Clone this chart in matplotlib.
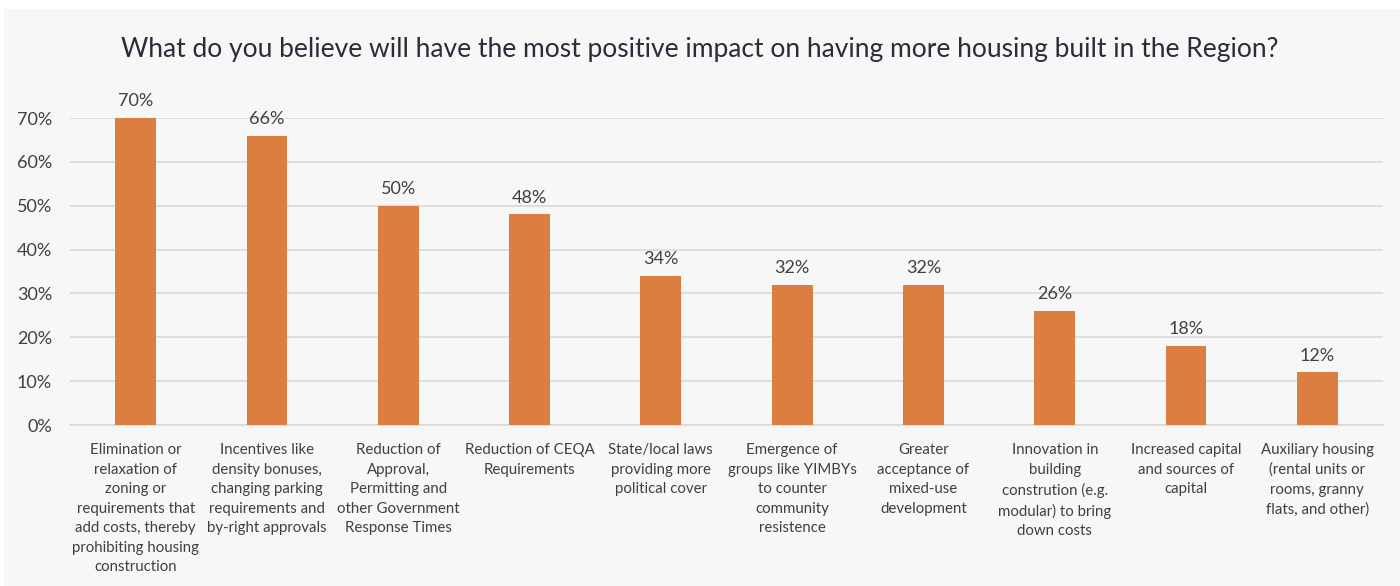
import matplotlib
matplotlib.use("Agg")
import matplotlib.pyplot as plt
from matplotlib.patches import Rectangle
from matplotlib.ticker import FuncFormatter

categories = [
    "Elimination or\nrelaxation of\nzoning or\nrequirements that\nadd costs, thereby\nprohibiting housing\nconstruction",
    "Incentives like\ndensity bonuses,\nchanging parking\nrequirements and\nby-right approvals",
    "Reduction of\nApproval,\nPermitting and\nother Government\nResponse Times",
    "Reduction of CEQA\nRequirements",
    "State/local laws\nproviding more\npolitical cover",
    "Emergence of\ngroups like YIMBYs\nto counter\ncommunity\nresistence",
    "Greater\nacceptance of\nmixed-use\ndevelopment",
    "Innovation in\nbuilding\nconstrution (e.g.\nmodular) to bring\ndown costs",
    "Increased capital\nand sources of\ncapital",
    "Auxiliary housing\n(rental units or\nrooms, granny\nflats, and other)",
]
values = [70, 66, 50, 48, 34, 32, 32, 26, 18, 12]
yticks = [0, 10, 20, 30, 40, 50, 60, 70]
title = "What do you believe will have the most positive impact on having more housing built in the Region?"

bar_color = "#DC7E40"
text_color = "#404040"
bg = "#F7F7F7"

fig = plt.figure(figsize=(14, 5.86), dpi=100)
fig.patch.set_facecolor("white")
fig.patches.append(Rectangle((4 / 1400, 0), 1 - 4 / 1400, 1 - 9 / 586,
                             transform=fig.transFigure, facecolor=bg,
                             edgecolor="none", zorder=-10))

ax = fig.add_axes([70 / 1400, 1 - 425 / 586, (1383 - 70) / 1400, (425 - 118) / 586])
ax.set_facecolor(bg)
ax.patch.set_alpha(0)

x = list(range(len(values)))
ax.bar(x, values, width=0.31, color=bar_color, zorder=3)
for xi, v in zip(x, values):
    ax.text(xi, v + 2.0, f"{v}%", ha="center", va="bottom", fontsize=13,
            color=text_color, family="Lato", clip_on=False)

ax.set_xlim(-0.5, len(values) - 0.5)
ax.set_ylim(0, 70)
ax.set_yticks(yticks)
ax.yaxis.set_major_formatter(FuncFormatter(lambda v, p: f"{int(v)}%"))
ax.grid(axis="y", color="#D9D9D9", linewidth=1.2, zorder=0)
ax.set_xticks(x)
ax.set_xticklabels(categories, fontsize=10.8, color=text_color, family="Lato",
                   linespacing=1.5, va="top")
for lbl in ax.get_yticklabels():
    lbl.set_fontsize(13)
    lbl.set_color(text_color)
    lbl.set_family("Lato")
ax.tick_params(axis="both", length=0)
ax.tick_params(axis="x", pad=13)
ax.tick_params(axis="y", pad=13)
for s in ["top", "right", "left"]:
    ax.spines[s].set_visible(False)
ax.spines["bottom"].set_color("#D9D9D9")
ax.spines["bottom"].set_linewidth(1.2)

fig.text(0.5, 1 - 50 / 586, title, ha="center", va="center", fontsize=19,
         color="#2B2B3A", family="Lato")

fig.savefig("out.png", dpi=100, facecolor=fig.get_facecolor())
